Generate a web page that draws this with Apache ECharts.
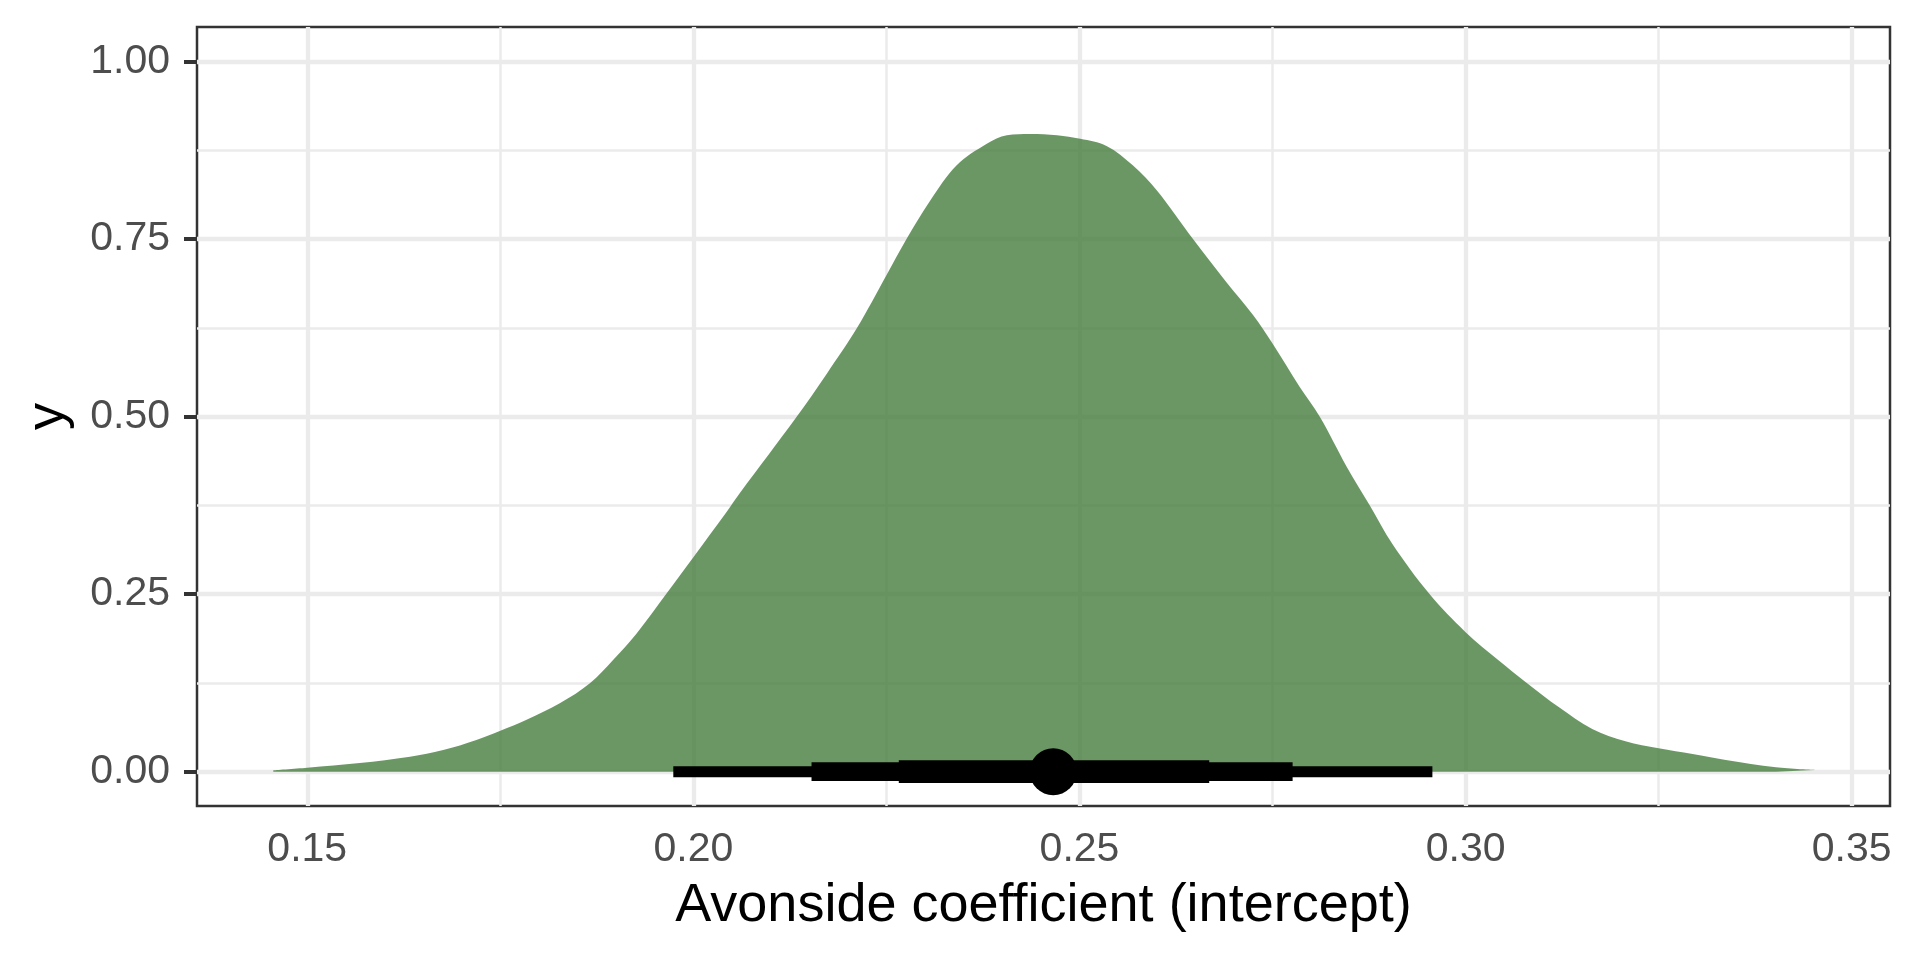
<!DOCTYPE html>
<html>
<head>
<meta charset="utf-8">
<script src="https://cdn.jsdelivr.net/npm/echarts@6/dist/echarts.min.js"></script>
<style>
html,body{margin:0;padding:0;background:#fff;}
#chart{width:1920px;height:960px;}
</style>
</head>
<body>
<div id="chart"></div>
<script>
// Density curve (x = coefficient, y = scaled density)
const densityX = [0.1456,0.15,0.1568,0.1633,0.1676,0.1719,0.175,0.1784,0.1827,0.1866,0.1896,0.1926,0.1965,0.2,0.2043,0.206,0.2134,0.2173,0.2212,0.225,0.2276,0.2307,0.2341,0.238,0.2406,0.2436,0.2471,0.2501,0.2535,0.2569,0.26,0.2647,0.269,0.2725,0.275,0.2785,0.2811,0.2846,0.2876,0.2905,0.2953,0.3,0.3043,0.3078,0.3121,0.3164,0.3207,0.325,0.3294,0.3337,0.3402,0.3452];
const densityY = [0.002,0.0056,0.0122,0.0211,0.0305,0.0447,0.0578,0.0733,0.0963,0.1245,0.1574,0.194,0.2505,0.302,0.3656,0.392,0.5,0.5608,0.625,0.699,0.75,0.8045,0.8537,0.884,0.896,0.898,0.896,0.891,0.881,0.8537,0.8185,0.75,0.6896,0.6428,0.6029,0.542,0.5,0.4295,0.3747,0.321,0.2505,0.1965,0.1565,0.126,0.0907,0.0602,0.0428,0.0329,0.0249,0.0165,0.0061,0.0024];

// Point interval summary
const pointEstimate = 0.2466;
const intervalOuter = [0.1974, 0.2957];
const intervalMiddle = [0.2153, 0.2776];
const intervalInner = [0.2266, 0.2668];

// Axis ticks
const xTicks = [0.15, 0.20, 0.25, 0.30, 0.35];
const xMinorTicks = [0.175, 0.225, 0.275, 0.325];
const yTicks = [0, 0.25, 0.5, 0.75, 1.0];
const yMinorTicks = [0.125, 0.375, 0.625, 0.875];

const xTitle = 'Avonside coefficient (intercept)';
const yTitle = 'y';

const FONT = '"Liberation Sans", Arial, Helvetica, sans-serif';
const GRID_COLOR = '#EBEBEB';

const chart = echarts.init(document.getElementById('chart'), null, {renderer: 'canvas'});

const densityData = densityX.map((x, i) => [x, densityY[i]]);

const gridLines = [];
xTicks.forEach(v => gridLines.push({xAxis: v, lineStyle: {width: 4.3, color: GRID_COLOR, type: 'solid'}}));
xMinorTicks.forEach(v => gridLines.push({xAxis: v, lineStyle: {width: 2.5, color: GRID_COLOR, type: 'solid'}}));
yTicks.forEach(v => gridLines.push({yAxis: v, lineStyle: {width: 4.3, color: GRID_COLOR, type: 'solid'}}));
yMinorTicks.forEach(v => gridLines.push({yAxis: v, lineStyle: {width: 2.5, color: GRID_COLOR, type: 'solid'}}));

function intervalSeries(range, width, z) {
  return {
    type: 'line',
    data: [[range[0], 0], [range[1], 0]],
    showSymbol: false,
    symbol: 'none',
    lineStyle: {color: '#000', width: width, cap: 'butt'},
    z: z,
    silent: true,
    animation: false
  };
}

const option = {
  animation: false,
  backgroundColor: '#ffffff',
  grid: {
    left: 197, top: 27, width: 1693, height: 779,
    show: true, borderColor: '#333333', borderWidth: 2.5, backgroundColor: 'transparent'
  },
  xAxis: {
    type: 'value',
    min: 0.13572, max: 0.35496,
    name: xTitle,
    nameLocation: 'middle',
    nameGap: 73,
    nameTextStyle: {fontFamily: FONT, fontSize: 54, color: '#000'},
    axisLine: {show: false},
    axisTick: {show: true, length: 13, customValues: xTicks, lineStyle: {color: '#333333', width: 4}},
    axisLabel: {
      show: true, customValues: xTicks, margin: 23,
      fontFamily: FONT, fontSize: 41, color: '#4D4D4D',
      formatter: v => Number(v).toFixed(2)
    },
    splitLine: {show: false}
  },
  yAxis: {
    type: 'value',
    min: -0.0483, max: 1.0485,
    name: yTitle,
    nameLocation: 'middle',
    nameGap: 122,
    nameTextStyle: {fontFamily: FONT, fontSize: 54, color: '#000'},
    axisLine: {show: false},
    axisTick: {show: true, length: 13, customValues: yTicks, lineStyle: {color: '#333333', width: 4}},
    axisLabel: {
      show: true, customValues: yTicks, margin: 27,
      fontFamily: FONT, fontSize: 41, color: '#4D4D4D',
      formatter: v => Number(v).toFixed(2)
    },
    splitLine: {show: false}
  },
  series: [
    {
      type: 'line',
      data: [],
      z: 1,
      silent: true,
      markLine: {
        z: 1,
        precision: 6,
        silent: true,
        symbol: ['none', 'none'],
        label: {show: false},
        emphasis: {disabled: true},
        animation: false,
        data: gridLines
      }
    },
    {
      type: 'line',
      data: densityData,
      smooth: 0.35,
      showSymbol: false,
      symbol: 'none',
      lineStyle: {width: 0, color: 'rgba(70,125,62,0)'},
      areaStyle: {color: 'rgba(70,125,62,0.8)', origin: 0, opacity: 1},
      z: 10,
      silent: true
    },
    intervalSeries(intervalOuter, 11, 11),
    intervalSeries(intervalMiddle, 18.7, 12),
    intervalSeries(intervalInner, 22.7, 13),
    {
      type: 'scatter',
      data: [[pointEstimate, 0]],
      symbol: 'circle',
      symbolSize: 47,
      itemStyle: {color: '#000', opacity: 1},
      z: 14,
      silent: true
    }
  ]
};

chart.setOption(option);
</script>
</body>
</html>
